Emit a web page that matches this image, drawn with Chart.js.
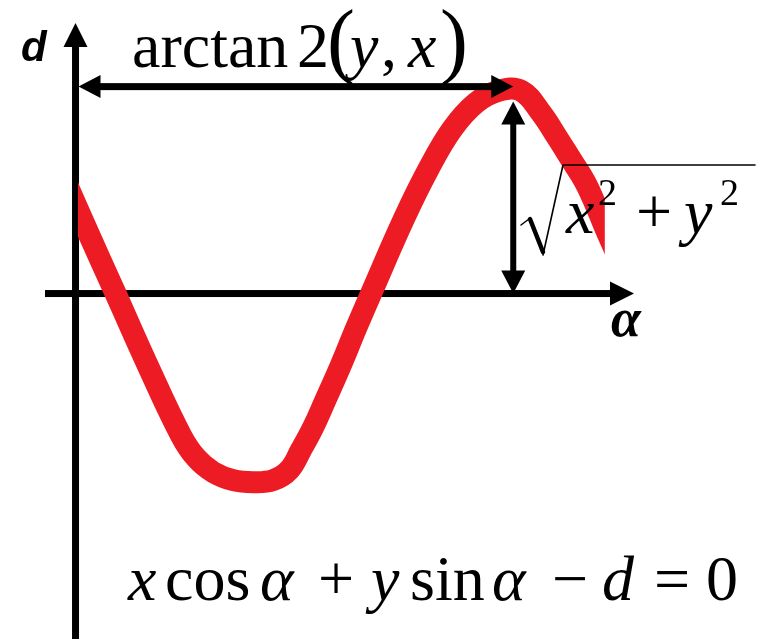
<!DOCTYPE html>
<html>
<head>
<meta charset="utf-8">
<script src="https://cdn.jsdelivr.net/npm/chart.js@4.4.1/dist/chart.umd.min.js"></script>
<style>
  html, body { margin: 0; padding: 0; background: #fff; }
  #wrap { width: 761px; height: 639px; }
</style>
</head>
<body>
<div id="wrap"><canvas id="curve"></canvas></div>
<script>
// d(α) sampled along the drawn sinusoid (α in degrees)
const alphaDeg = [-8, 9.5, 28, 51.5, 73.8, 84.3, 96.2, 110.2, 124.2, 138.1, 149.3, 157.7, 166.1,
                  173.8, 185.7, 196.2, 206.6, 229.7, 246.5, 263.3, 280, 296.1, 311.5, 325.5,
                  336.7, 346.5, 356.2, 364.6, 372.3, 380];
const dValues = [0.57, 0.29, 0, -0.37, -0.70, -0.81, -0.88, -0.92, -0.93, -0.92, -0.87, -0.77, -0.66,
                 -0.54, -0.35, -0.17, 0, 0.37, 0.61, 0.81, 0.94, 1.0, 1.0, 0.89,
                 0.77, 0.66, 0.55, 0.42, 0.29, 0.17];
// visible part of the curve
const curveSpan = [1.7, 370];
// maximum of the curve: angle arctan2(y,x), height sqrt(x^2+y^2)
const peakAlpha = 306;
const peakD = 1.02;

const serif = '"Liberation Serif", "Times New Roman", serif';
const sans = '"Liberation Sans", Arial, sans-serif';

function arrowHead(ctx, tx, ty, dx, dy, len, half) {
  const bx = tx - dx * len, by = ty - dy * len;
  ctx.beginPath();
  ctx.moveTo(tx, ty);
  ctx.lineTo(bx - dy * half, by + dx * half);
  ctx.lineTo(bx + dy * half, by - dx * half);
  ctx.closePath();
  ctx.fill();
}

function put(ctx, str, x, y, font) {
  ctx.font = font;
  ctx.fillText(str, x, y);
}

const diagram = {
  id: 'diagram',
  beforeDatasetsDraw(chart) {
    const { ctx, scales: { x, y } } = chart;
    const ox = x.getPixelForValue(0), oy = y.getPixelForValue(0);
    ctx.save();
    ctx.fillStyle = '#000';
    // d axis
    ctx.fillRect(ox - 3.5, 40, 7, chart.height);
    arrowHead(ctx, ox, 23, 0, -1, 24, 12);
    // α axis
    ctx.fillRect(45, oy - 3.5, 615 - 45, 7);
    arrowHead(ctx, 634, oy, 1, 0, 24, 12);
    ctx.restore();
  },
  beforeDatasetDraw(chart) {
    const { ctx, chartArea, scales: { x } } = chart;
    const l = x.getPixelForValue(curveSpan[0]), r = x.getPixelForValue(curveSpan[1]);
    ctx.save();
    ctx.beginPath();
    ctx.rect(l, chartArea.top, r - l, chartArea.bottom - chartArea.top);
    ctx.clip();
  },
  afterDatasetDraw(chart) {
    chart.ctx.restore();
  },
  afterDatasetsDraw(chart) {
    const { ctx, scales: { x, y } } = chart;
    const ox = x.getPixelForValue(0), oy = y.getPixelForValue(0);
    const px = x.getPixelForValue(peakAlpha), py = y.getPixelForValue(peakD);
    ctx.save();
    ctx.fillStyle = '#000';
    ctx.strokeStyle = '#000';

    // horizontal double arrow: arctan2(y, x)
    ctx.fillRect(ox + 20, py - 3.5, px - ox - 40, 7);
    arrowHead(ctx, ox + 3, py, -1, 0, 22, 11.5);
    arrowHead(ctx, px, py, 1, 0, 22, 11.5);

    // vertical double arrow: sqrt(x^2 + y^2)
    const top = py + 15;
    ctx.fillRect(px - 3, top + 20, 6, oy - top - 40);
    arrowHead(ctx, px, top, 0, -1, 23, 12);
    arrowHead(ctx, px, oy, 0, 1, 23, 12);

    ctx.textBaseline = 'alphabetic';
    ctx.textAlign = 'left';

    // axis names
    put(ctx, 'd', 21, 61, 'italic bold 42px ' + sans);
    put(ctx, 'α', 611, 336, 'italic bold 54px ' + serif);

    // arctan 2(y, x)
    put(ctx, 'arctan', 132, 67, '64px ' + serif);
    put(ctx, '2', 297, 67, '64px ' + serif);
    put(ctx, '(', 327, 68, '84px ' + serif);
    put(ctx, 'y', 350, 67, 'italic 64px ' + serif);
    put(ctx, ',', 381, 67, '64px ' + serif);
    put(ctx, 'x', 408, 67, 'italic 64px ' + serif);
    put(ctx, ')', 440, 68, '84px ' + serif);

    // radical sign
    ctx.lineCap = 'round';
    ctx.lineJoin = 'round';
    ctx.lineWidth = 1.5;
    ctx.beginPath();
    ctx.moveTo(521, 225);
    ctx.lineTo(529, 219);
    ctx.stroke();
    ctx.lineWidth = 4.5;
    ctx.beginPath();
    ctx.moveTo(530, 219);
    ctx.lineTo(543, 252);
    ctx.stroke();
    ctx.lineWidth = 1.6;
    ctx.beginPath();
    ctx.moveTo(543, 255);
    ctx.lineTo(563, 165);
    ctx.lineTo(755, 165);
    ctx.stroke();

    put(ctx, 'x', 566, 233, 'italic 64px ' + serif);
    put(ctx, '2', 598, 205, '38px ' + serif);
    put(ctx, '+', 636, 233, '64px ' + serif);
    put(ctx, 'y', 684, 233, 'italic 64px ' + serif);
    put(ctx, '2', 720, 205, '38px ' + serif);

    // line equation
    const base = 600;
    put(ctx, 'x', 128, base, 'italic 64px ' + serif);
    put(ctx, 'cos', 165, base, '64px ' + serif);
    put(ctx, 'α', 260, base, 'italic 64px ' + serif);
    put(ctx, '+', 318, base, '64px ' + serif);
    put(ctx, 'y', 371, base, 'italic 64px ' + serif);
    put(ctx, 'sin', 410, base, '64px ' + serif);
    put(ctx, 'α', 492, base, 'italic 64px ' + serif);
    put(ctx, '−', 552, base, '64px ' + serif);
    put(ctx, 'd', 602, base, 'italic 64px ' + serif);
    put(ctx, '=', 654, base, '64px ' + serif);
    put(ctx, '0', 706, base, '64px ' + serif);
    ctx.restore();
  }
};

new Chart(document.getElementById('curve'), {
  type: 'line',
  data: {
    datasets: [{
      data: alphaDeg.map((a, i) => ({ x: a, y: dValues[i] })),
      borderColor: '#ed1c24',
      borderWidth: 22,
      borderCapStyle: 'butt',
      borderJoinStyle: 'round',
      tension: 0.4,
      pointRadius: 0,
      fill: false
    }]
  },
  options: {
    responsive: true,
    maintainAspectRatio: false,
    animation: false,
    layout: { padding: 0 },
    scales: {
      x: { type: 'linear', min: -52.8, max: 479.2, display: false },
      y: { type: 'linear', min: -1.703, max: 1.447, display: false }
    },
    plugins: { legend: { display: false }, tooltip: { enabled: false } }
  },
  plugins: [diagram]
});
</script>
</body>
</html>
